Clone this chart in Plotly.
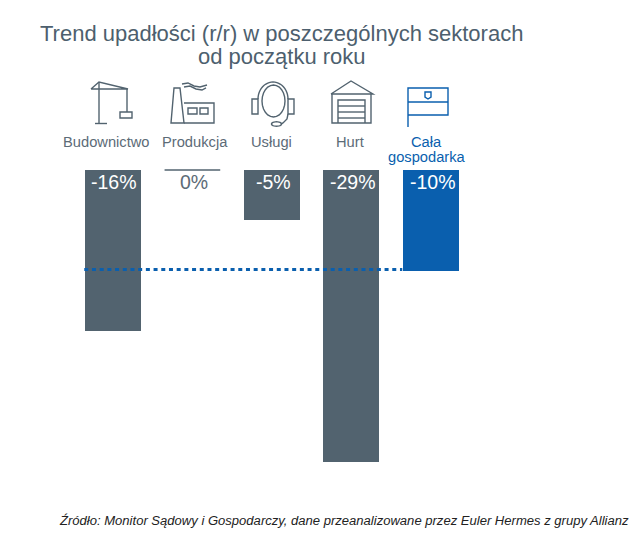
import math
import plotly.graph_objects as go

categories = [["Budownictwo"], ["Produkcja"], ["Usługi"], ["Hurt"], ["Cała", "gospodarka"]]
label_shift = [-0.08, 0.03, 0, -0.02, -0.05]
values = [-16, 0, -5, -29, -10]
value_labels = ["-16%", "0%", "-5%", "-29%", "-10%"]
average = -10
title_lines = ["Trend upadłości (r/r) w poszczególnych sektorach", "od początku roku"]
source_text = "Źródło: Monitor Sądowy i Gospodarczy, dane przeanalizowane przez Euler Hermes z grupy Allianz"

GREY = "#52636f"
BLUE = "#0a5fae"
TXT = "#5c6b77"
FONT = "Liberation Sans"
W, H = 640, 546
x = list(range(len(categories)))
colors = [GREY, GREY, GREY, GREY, BLUE]


def px(v):
    return v / W


def py(v):
    return 1 - v / H


def P(points, close=False):
    s = "M" + " L".join(f"{px(a):.5f},{py(b):.5f}" for a, b in points)
    return s + (" Z" if close else "")


def icon(points, color=GREY, close=False):
    return dict(type="path", xref="paper", yref="paper", path=P(points, close),
                line=dict(color=color, width=1.4), layer="above")


def ellipse_arc(cx, cy, rx, ry, a0, a1, n=24):
    return [(cx + rx * math.cos(math.radians(a0 + (a1 - a0) * i / n)),
             cy - ry * math.sin(math.radians(a0 + (a1 - a0) * i / n))) for i in range(n + 1)]


shapes = [
    # crane
    icon([(99, 82), (99, 123)]), icon([(95, 123.5), (107, 123.5)]),
    icon([(91, 89), (99, 82), (128, 89), (91, 89)]), icon([(127, 89), (127, 112)]),
    icon([(120, 112), (132, 112), (132, 118), (120, 118)], close=True),
    # factory
    icon([(171, 123), (174, 88), (180, 88), (184, 123)], close=True),
    icon([(184, 103), (214, 103), (214, 123), (184, 123)]),
    icon([(188, 108), (197, 108), (197, 114), (188, 114)], close=True),
    icon([(200, 108), (208, 108), (208, 114), (200, 114)], close=True),
    icon([(182, 84), (188, 83), (194, 86), (200, 87), (207, 85)]),
    icon([(184, 87), (190, 86), (196, 89), (202, 90), (206, 88)]),
    # headset
    icon(ellipse_arc(273, 99, 15, 17, 180, 0)),
    icon(ellipse_arc(273.5, 101, 11.5, 16, 0, 360), close=True),
    icon([(252, 99), (258, 99), (258, 114), (252, 114)], close=True),
    icon([(288, 99), (294, 99), (294, 114), (288, 114)], close=True),
    icon([(288, 114), (287, 119), (283, 123), (281, 124)]),
    icon(ellipse_arc(276.5, 124, 5, 2.2, 0, 360), close=True),
    # warehouse
    icon([(331, 94), (351, 81), (373, 94), (331, 94)]),
    icon([(332, 94), (332, 123), (371, 123), (371, 94)]),
    icon([(338, 123), (338, 100), (365, 100), (365, 123)]),
    icon([(338, 106), (365, 106)]), icon([(338, 112), (365, 112)]), icon([(338, 118), (365, 118)]),
    # flag
    icon([(408, 127), (408, 88), (448, 88), (448, 115), (408, 115)], BLUE),
    icon([(408, 102), (448, 102)], BLUE),
    icon([(425, 92), (431, 92), (431, 97), (428, 99), (425, 97)], BLUE, close=True),
]

# zero-value marker for the flat bar
shapes.append(dict(type="line", xref="x", yref="y", x0=x[1] - 0.35, x1=x[1] + 0.35,
                   y0=values[1], y1=values[1], line=dict(color=GREY, width=1.5)))

fig = go.Figure()
fig.add_trace(go.Bar(x=x, y=values, width=0.705, marker=dict(color=colors, line=dict(width=0)),
                     hoverinfo="skip", showlegend=False))
fig.add_trace(go.Scatter(x=[x[0] - 0.36, x[4] - 0.36], y=[average + 0.12, average + 0.12], mode="lines",
                         line=dict(color=BLUE, width=3, dash="4px,3.7px"),
                         hoverinfo="skip", showlegend=False))


def text(xv, yv, t, size, color, style="normal", xref="paper"):
    return dict(xref=xref, yref="paper", x=xv, y=py(yv), text=t, showarrow=False,
                xanchor="center", yanchor="middle", align="center",
                font=dict(family=FONT, size=size, color=color, style=style))


annotations = [
    text(px(281.5), 33, title_lines[0], 22, "#4d5f6e"),
    text(px(282), 57, title_lines[1], 22, "#4d5f6e"),
    text(px(344), 520, source_text, 13.05, "#222222", style="italic"),
]
for i, lines in enumerate(categories):
    for j, line in enumerate(lines):
        annotations.append(text(x[i] + label_shift[i], 142 + 15 * j, line, 14.7,
                                BLUE if i == 4 else TXT, xref="x"))
for i, lab in enumerate(value_labels):
    annotations.append(text(x[i] + 0.02, 182, lab, 19.5, TXT if values[i] == 0 else "white", xref="x"))

fig.update_layout(
    width=W, height=H, autosize=False, margin=dict(l=0, r=0, t=0, b=0),
    paper_bgcolor="white", plot_bgcolor="white", bargap=0,
    xaxis=dict(range=[-1.42, 6.63], visible=False),
    yaxis=dict(range=[-37.38, 16.9], visible=False),
    shapes=shapes, annotations=annotations,
)
fig.write_html("out.html", config=dict(displayModeBar=False),
               post_script="document.body.style.margin='0';document.body.style.overflow='hidden';")
